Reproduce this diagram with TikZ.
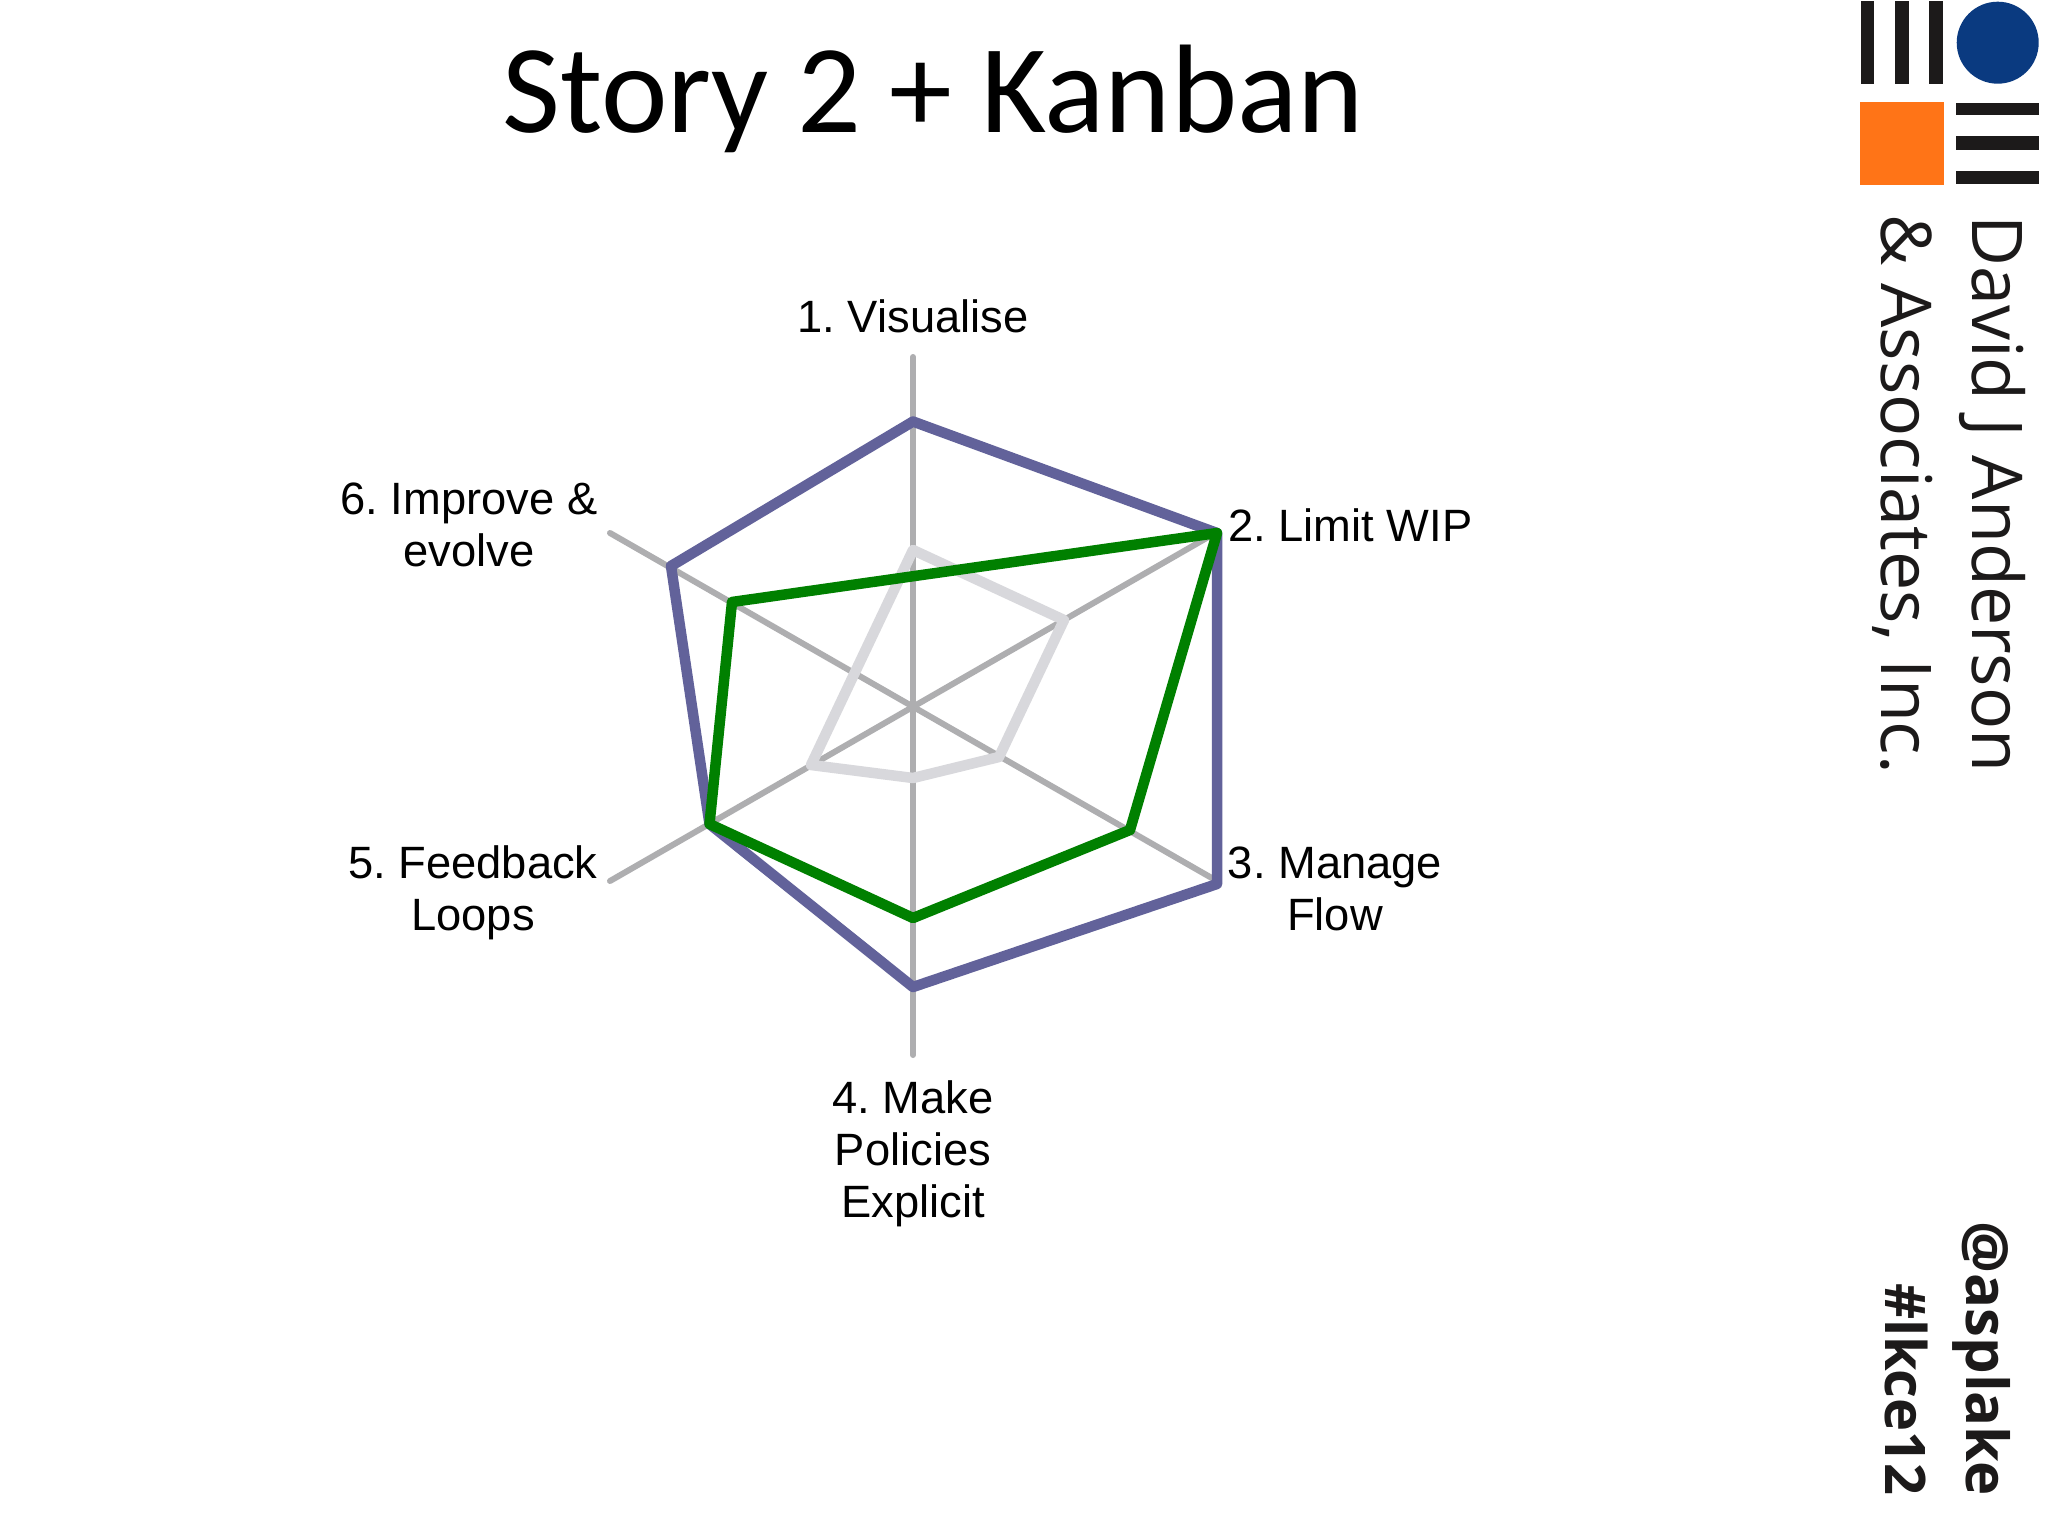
\documentclass[tikz,border=0pt]{standalone}
\usepackage{fontspec}
\setmainfont{Liberation Sans}
\newfontfamily\titlefont{Carlito}
\newfontfamily\logofont{Open Sans}
\frenchspacing
\definecolor{axisgrey}{HTML}{AEAEB0}
\definecolor{bluepurple}{HTML}{62629A}
\definecolor{chartgreen}{HTML}{008000}
\definecolor{palegrey}{HTML}{D8D8DC}
\definecolor{logoblack}{HTML}{1C1A1A}
\definecolor{logoblue}{HTML}{0A3A80}
\definecolor{logoorange}{HTML}{FF7417}
\tikzset{
  x=1pt,y=-1pt,
  axisline/.style={draw=axisgrey,line width=6pt,line cap=round},
  series/.style={line width=10.5pt,line join=round},
  lab/.style={font=\fontsize{45.3}{52}\selectfont,align=center,inner sep=0pt,text=black},
  bar/.style={fill=logoblack,draw=none},
  logotext/.style={font=\logofont\fontsize{70}{70}\selectfont,rotate=-90,anchor=west,inner sep=0pt,text=logoblack},
  tagtext/.style={font=\logofont\bfseries\selectfont,rotate=-90,anchor=east,inner sep=0pt,text=logoblack},
}
\begin{document}
\begin{tikzpicture}
\useasboundingbox (0,0) rectangle (2048,1536);
\fill[white] (0,0) rectangle (2048,1536);
% axes
\coordinate (c) at (913,707);
\coordinate (a1) at (913,357);
\coordinate (a2) at (1217,532);
\coordinate (a3) at (1217,881);
\coordinate (a4) at (913,1055);
\coordinate (a5) at (610,881);
\coordinate (a6) at (610,533);
\draw[axisline] (a1) -- (a4);
\draw[axisline] (a2) -- (a5);
\draw[axisline] (a3) -- (a6);
% series: pale grey
\coordinate (g1) at (913,550);
\coordinate (g2) at (1064,620);
\coordinate (g3) at (999,757);
\coordinate (g4) at (913,778);
\coordinate (g5) at (811,765);
\draw[series,palegrey] (g1) -- (g2) -- (g3) -- (g4) -- (g5) -- cycle;
% series: purple
\coordinate (p1) at (913,421.5);
\coordinate (p2) at (1217,533);
\coordinate (p3) at (1217,884);
\coordinate (p4) at (913,987);
\coordinate (p5) at (709.5,824);
\coordinate (p6) at (671,566);
\draw[series,bluepurple] (p1) -- (p2) -- (p3) -- (p4) -- (p5) -- (p6) -- cycle;
% series: green
\coordinate (v3) at (1130,830);
\coordinate (v4) at (913,918);
\coordinate (v6) at (732,602);
\draw[series,chartgreen] (p2) -- (v3) -- (v4) -- (p5) -- (v6) -- cycle;
% labels
\node[font=\titlefont\fontsize{126}{126}\selectfont,inner sep=0pt] (title) at (933,99) {Story 2 + Kanban};
\node[lab] (l1) at (913,316) {1. Visualise};
\node[lab,anchor=west] (l2) at (1228,525) {2. Limit WIP};
\node[lab] (l3) at (1335,889) {3. Manage\\Flow};
\node[lab] (l4) at (913,1154) {4. Make\\Policies\\Explicit};
\node[lab] (l5) at (473,893) {5. Feedback\\Loops};
\node[lab] (l6) at (469,525) {6. Improve \&\\evolve};
% logo
\fill[bar] (1861,1.5) rectangle (1874,84);
\fill[bar] (1895,1.5) rectangle (1908.5,84);
\fill[bar] (1929,1.5) rectangle (1942.5,84);
\fill[logoblue] (1997.7,42.7) circle (41);
\fill[logoorange] (1860,102) rectangle (1943.5,184.7);
\fill[bar] (1956,103) rectangle (2039,115.5);
\fill[bar] (1956,136.5) rectangle (2039,150);
\fill[bar] (1956,171) rectangle (2039,184);
\node[logotext] (david) at (1992,215) {David J Anderson};
\node[logotext] (assoc) at (1903,214) {\& Associates, Inc.};
\node[tagtext,font=\logofont\bfseries\fontsize{58}{58}\selectfont] (tag1) at (1982,1496) {@asplake};
\node[tagtext,font=\logofont\bfseries\fontsize{56}{56}\selectfont] (tag2) at (1906,1496) {\#lkce12};
\end{tikzpicture}
\end{document}
